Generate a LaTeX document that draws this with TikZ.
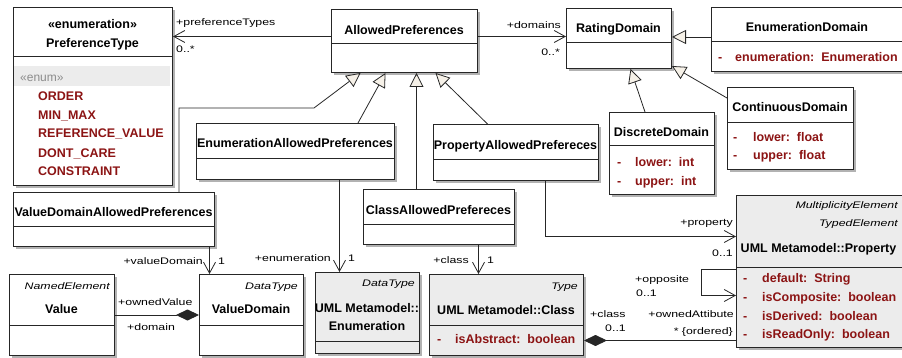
\documentclass[tikz,border=0pt]{standalone}
\usepackage{fontspec}
\setmainfont{Liberation Sans}
\newfontfamily\lblfont[FakeStretch=1.3]{Liberation Sans}
\usetikzlibrary{arrows.meta,shadows}
\definecolor{attrred}{RGB}{140,20,20}
\definecolor{metagray}{RGB}{236,236,236}
\definecolor{tipfill}{RGB}{246,241,232}
\definecolor{shadowgray}{RGB}{178,178,178}

\begin{document}
\begin{tikzpicture}[x=1pt,y=-1pt]
    \tikzstyle{cls}=[draw=black!85, fill=white, line width=1pt, anchor=north west, inner sep=0pt,
      drop shadow={shadow xshift=2.5pt, shadow yshift=-2.5pt, fill=shadowgray, opacity=1}]
    \tikzstyle{meta}=[cls, fill=metagray]
    \tikzstyle{sepline}=[draw=black!85, line width=1pt]
    \tikzstyle{clsname}=[font=\fontsize{12.5}{14}\selectfont\bfseries, inner sep=0pt, text height=9pt, text depth=0pt]
    \tikzstyle{attr}=[clsname, text=attrred, anchor=west]
    \tikzstyle{stereo}=[font=\lblfont\fontsize{9.5}{11}\selectfont\itshape, inner sep=0pt, anchor=east, text height=7pt, text depth=0pt]
    \tikzstyle{lbl}=[font=\lblfont\fontsize{9.5}{11}\selectfont, inner sep=0pt, text height=7pt, text depth=0pt]
    \tikzstyle{gen}=[draw=black!85, line width=0.8pt, -{Triangle[length=14pt,width=14pt,fill=tipfill]}]
    \tikzstyle{assoc}=[draw=black!85, line width=0.8pt, -{Straight Barb[length=11pt,width=12pt]}]
    \tikzstyle{comp}=[draw=black!85, line width=0.9pt, {Diamond[length=23pt,width=11pt]}-]
    \useasboundingbox (0,0) rectangle (902,358);

    \node[cls, minimum width=159pt, minimum height=178pt] (ptype) at (13,7) {};
    \node[cls, minimum width=146pt, minimum height=63pt] (allowed) at (331,9) {};
    \node[cls, minimum width=105pt, minimum height=60pt] (rating) at (566,8) {};
    \node[cls, minimum width=192pt, minimum height=64pt] (enumdom) at (711,7) {};
    \node[cls, minimum width=126pt, minimum height=82pt] (contdom) at (727,87) {};
    \node[cls, minimum width=105pt, minimum height=82pt] (discdom) at (609,112) {};
    \node[cls, minimum width=198pt, minimum height=56pt] (enumallowed) at (196,123) {};
    \node[cls, minimum width=165pt, minimum height=56pt] (propallowed) at (433,124) {};
    \node[cls, minimum width=201pt, minimum height=54pt] (vdallowed) at (13,192) {};
    \node[cls, minimum width=151pt, minimum height=55pt] (classallowed) at (363,189) {};
    \node[cls, minimum width=105pt, minimum height=81pt] (value) at (9,274) {};
    \node[cls, minimum width=104pt, minimum height=81pt] (valuedom) at (199,274) {};
    \node[meta, minimum width=104pt, minimum height=81pt] (umlenum) at (315,272) {};
    \node[meta, minimum width=154pt, minimum height=81pt] (umlclass) at (429,274) {};
    \node[meta, minimum width=167pt, minimum height=152pt] (property) at (736,195) {};

    \fill[metagray] ([shift={(0.6pt,-59pt)}]ptype.north west) rectangle ([shift={(-3pt,-79pt)}]ptype.north east);
    \path[sepline] ([yshift=-50pt]ptype.north west) -- ([yshift=-50pt]ptype.north east);
    \path[sepline] ([yshift=-35pt]allowed.north west) -- ([yshift=-35pt]allowed.north east);
    \path[sepline] ([yshift=-35pt]rating.north west) -- ([yshift=-35pt]rating.north east);
    \path[sepline] ([yshift=-35pt]enumdom.north west) -- ([yshift=-35pt]enumdom.north east);
    \path[sepline] ([yshift=-36pt]contdom.north west) -- ([yshift=-36pt]contdom.north east);
    \path[sepline] ([yshift=-34pt]discdom.north west) -- ([yshift=-34pt]discdom.north east);
    \path[sepline] ([yshift=-36pt]enumallowed.north west) -- ([yshift=-36pt]enumallowed.north east);
    \path[sepline] ([yshift=-36pt]propallowed.north west) -- ([yshift=-36pt]propallowed.north east);
    \path[sepline] ([yshift=-35pt]vdallowed.north west) -- ([yshift=-35pt]vdallowed.north east);
    \path[sepline] ([yshift=-36pt]classallowed.north west) -- ([yshift=-36pt]classallowed.north east);
    \path[sepline] ([yshift=-51pt]value.north west) -- ([yshift=-51pt]value.north east);
    \path[sepline] ([yshift=-51pt]valuedom.north west) -- ([yshift=-51pt]valuedom.north east);
    \path[sepline] ([yshift=-69pt]umlenum.north west) -- ([yshift=-69pt]umlenum.north east);
    \path[sepline] ([yshift=-51pt]umlclass.north west) -- ([yshift=-51pt]umlclass.north east);
    \path[sepline] ([yshift=-72pt]property.north west) -- ([yshift=-72pt]property.north east);

    \node[clsname] (ptypest) at (92.5,24) {«enumeration»};
    \node[clsname] (ptypename) at (92.5,43) {PreferenceType};
    \node[clsname, font=\fontsize{12}{14}\selectfont, text=black!45, anchor=west] (enumst) at (20,77) {«enum»};
    \node[attr] (lit1) at (38,96) {ORDER};
    \node[attr] (lit2) at (38,115) {MIN\_MAX};
    \node[attr] (lit3) at (38,133) {REFERENCE\_VALUE};
    \node[attr] (lit4) at (38,153) {DONT\_CARE};
    \node[attr] (lit5) at (38,171) {CONSTRAINT};
    \node[clsname] (allowedname) at (404,30) {AllowedPreferences};
    \node[clsname] (ratingname) at (618.5,28) {RatingDomain};
    \node[clsname] (enumdomname) at (807,27) {EnumerationDomain};
    \node[attr] (enumdomv) at (718,57) {-};
    \node[attr] (enumdoma) at (735,57) {enumeration:\ \ Enumeration};
    \node[clsname] (contdomname) at (790,107) {ContinuousDomain};
    \node[attr] (contdomv1) at (733,137) {-};
    \node[attr] (contdoma1) at (753,137) {lower:\ \ float};
    \node[attr] (contdomv2) at (733,155) {-};
    \node[attr] (contdoma2) at (753,155) {upper:\ \ float};
    \node[clsname] (discdomname) at (661.5,132) {DiscreteDomain};
    \node[attr] (discdomv1) at (617,162) {-};
    \node[attr] (discdoma1) at (635,162) {lower:\ \ int};
    \node[attr] (discdomv2) at (617,181) {-};
    \node[attr] (discdoma2) at (635,181) {upper:\ \ int};
    \node[clsname] (enumallowedname) at (295,143) {EnumerationAllowedPreferences};
    \node[clsname] (propallowedname) at (515.5,145) {PropertyAllowedPrefereces};
    \node[clsname] (vdallowedname) at (113.5,212) {ValueDomainAllowedPreferences};
    \node[clsname] (classallowedname) at (438.5,210) {ClassAllowedPrefereces};
    \node[stereo] (valuest) at (110,286) {NamedElement};
    \node[clsname] (valuename) at (61.5,309) {Value};
    \node[stereo] (valuedomst) at (298,286) {DataType};
    \node[clsname] (valuedomname) at (251,309) {ValueDomain};
    \node[stereo] (umlenumst) at (415,283) {DataType};
    \node[clsname] (umlenumname1) at (367,308) {UML Metamodel::};
    \node[clsname] (umlenumname2) at (367,326) {Enumeration};
    \node[stereo] (umlclassst) at (578,286) {Type};
    \node[clsname] (umlclassname) at (506,310) {UML Metamodel::Class};
    \node[attr] (umlclassv) at (437,339) {-};
    \node[attr] (umlclassa) at (455,339) {isAbstract:\ \ boolean};
    \node[stereo] (propertyst1) at (898,205) {MultiplicityElement};
    \node[stereo] (propertyst2) at (898,223) {TypedElement};
    \node[clsname] (propertyname) at (818.5,248) {UML Metamodel::Property};
    \node[attr] (propertyv1) at (743,278) {-};
    \node[attr] (propertya1) at (762,278) {default:\ \ String};
    \node[attr] (propertyv2) at (743,297) {-};
    \node[attr] (propertya2) at (762,297) {isComposite:\ \ boolean};
    \node[attr] (propertyv3) at (743,316) {-};
    \node[attr] (propertya3) at (762,316) {isDerived:\ \ boolean};
    \node[attr] (propertyv4) at (743,334) {-};
    \node[attr] (propertya4) at (762,334) {isReadOnly:\ \ boolean};

    \draw[assoc] ([yshift=4.5pt]allowed.west) coordinate (a1) -- (a1 -| ptype.east);
    \draw[assoc] ([yshift=4.5pt]allowed.east) coordinate (a2) -- (a2 -| rating.west);
    \draw[gen] ([yshift=2.5pt]enumdom.west) coordinate (a3) -- (a3 -| rating.east);
    \draw[gen] ([yshift=-11pt]contdom.north west) -- ([yshift=3pt]rating.south east);
    \draw[gen] ([xshift=36pt]discdom.north west) -- ([xshift=11.5pt]rating.south);
    \draw[gen] ([xshift=-37pt]enumallowed.north east) -- ([xshift=-19pt]allowed.south);
    \draw[gen] ([xshift=-36pt]vdallowed.north east) |- (314,108) -- ([xshift=-44pt]allowed.south);
    \coordinate (g1) at ([xshift=12pt]allowed.south);
    \draw[gen] (g1 |- classallowed.north) -- (g1);
    \draw[gen] ([xshift=-28.5pt]propallowed.north) -- ([xshift=31pt]allowed.south);
    \draw[assoc] ([xshift=29.5pt]propallowed.south) |- ([yshift=35pt]property.west);
    \coordinate (e1) at ([xshift=-28pt]umlenum.north);
    \draw[assoc] (e1 |- enumallowed.south) -- (e1);
    \coordinate (e2) at ([xshift=-42pt]valuedom.north);
    \draw[assoc] (e2 |- vdallowed.south) -- (e2);
    \coordinate (e3) at ([xshift=-28pt]umlclass.north);
    \draw[assoc] (e3 |- classallowed.south) -- (e3);
    \draw[comp] (valuedom.west) -- (value.east);
    \draw[comp] ([yshift=-25.5pt]umlclass.east) coordinate (k1) -- (k1 -| property.west);
    \draw[assoc] ([yshift=2pt]property.west) -- ++(-35,0) |- ([yshift=-24pt]property.west);

    \node[lbl, anchor=west] (lpref1) at (176,22) {+preferenceTypes};
    \node[lbl, anchor=west] (lpref2) at (176,49) {0..*};
    \node[lbl, anchor=east] (ldom1) at (561,25) {+domains};
    \node[lbl, anchor=east] (ldom2) at (560,52) {0..*};
    \node[lbl, anchor=east] (lprop1) at (733,222) {+property};
    \node[lbl, anchor=east] (lprop2) at (733,253) {0..1};
    \node[lbl, anchor=west] (lopp1) at (635,279) {+opposite};
    \node[lbl, anchor=west] (lopp2) at (636,293) {0..1};
    \node[lbl, anchor=west] (lcls1) at (590,314) {+class};
    \node[lbl, anchor=west] (lcls2) at (605,328) {0..1};
    \node[lbl, anchor=east] (lown1) at (734,314) {+ownedAttibute};
    \node[lbl, anchor=east] (lown2) at (733,331) {* \{ordered\}};
    \node[lbl, anchor=east] (lvd1) at (203,261) {+valueDomain};
    \node[lbl, anchor=west] (lvd2) at (218,261) {1};
    \node[lbl, anchor=east] (lenum1) at (331,258) {+enumeration};
    \node[lbl, anchor=west] (lenum2) at (348,258) {1};
    \node[lbl, anchor=east] (lcl1) at (469,260) {+class};
    \node[lbl, anchor=west] (lcl2) at (487,260) {1};
    \node[lbl, anchor=west] (lval1) at (118,302) {+ownedValue};
    \node[lbl, anchor=west] (lval2) at (127,327) {+domain};
\end{tikzpicture}
\end{document}
